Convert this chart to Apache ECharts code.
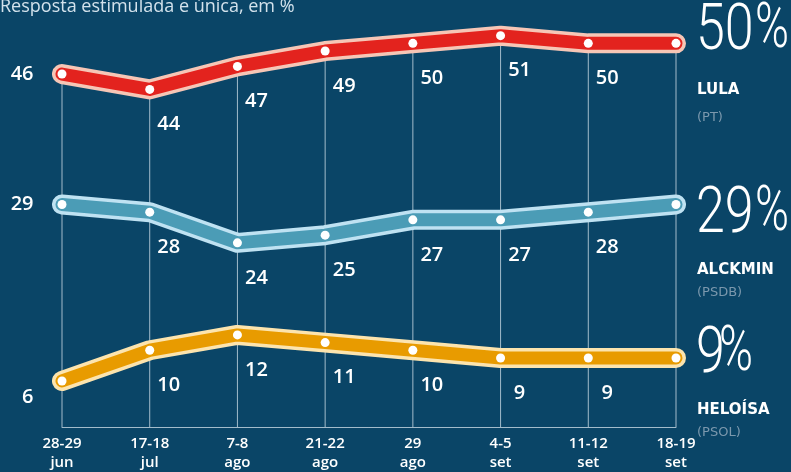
<!DOCTYPE html>
<html>
<head>
<meta charset="utf-8">
<script src="https://cdn.jsdelivr.net/npm/echarts@6/dist/echarts.min.js"></script>
<style>
  html, body { margin: 0; padding: 0; background: #0a4567; }
  #chart { width: 791px; height: 472px; }
</style>
</head>
<body>
<div id="chart"></div>
<script>
// dados
var categories = ['28-29\njun', '17-18\njul', '7-8\nago', '21-22\nago', '29\nago', '4-5\nset', '11-12\nset', '18-19\nset'];
var lula = [46, 44, 47, 49, 50, 51, 50, 50];
var alckmin = [29, 28, 24, 25, 27, 27, 28, 29];
var heloisa = [6, 10, 12, 11, 10, 9, 9, 9];

var candidatos = [
    { nome: 'LULA', partido: '(PT)', valores: lula, cor: '#e3231e', borda: '#f6c6b6' },
    { nome: 'ALCKMIN', partido: '(PSDB)', valores: alckmin, cor: '#4b9cb6', borda: '#bfe2f2' },
    { nome: 'HELOÍSA', partido: '(PSOL)', valores: heloisa, cor: '#e89b00', borda: '#fce4ae' }
];

var fonte = "'Open Sans', 'DejaVu Sans', sans-serif";

// monta os pontos com rótulos
function montaPontos(valores, primeiroOffset) {
    var pts = [];
    for (var i = 0; i < valores.length; i++) {
        var lab;
        if (i === 0) {
            lab = { show: true, position: 'left', distance: 24, offset: primeiroOffset };
        } else if (i === valores.length - 1) {
            lab = { show: false };
        } else {
            lab = { show: true, position: 'inside', offset: [19, 35] };
        }
        pts.push({ value: valores[i], label: lab });
    }
    return pts;
}

var series = [{
    // linhas verticais
    type: 'bar',
    data: lula,
    barWidth: 1,
    silent: true,
    itemStyle: { color: '#a3bccb' },
    z: 1
}];

for (var i = 0; i < candidatos.length; i++) {
    var c = candidatos[i];
    series.push({
        type: 'line',
        data: c.valores,
        symbol: 'none',
        silent: true,
        lineStyle: { color: c.borda, width: 20, cap: 'round', join: 'round' },
        z: 2
    });
    series.push({
        type: 'line',
        data: montaPontos(c.valores, i === 2 ? [0, 16] : [0, 0]),
        symbol: 'circle',
        symbolSize: 9,
        silent: true,
        itemStyle: { color: '#ffffff' },
        lineStyle: { color: c.cor, width: 13, cap: 'round', join: 'round' },
        label: {
            color: '#ffffff',
            fontSize: 20,
            fontWeight: 600,
            fontFamily: fonte
        },
        z: 3
    });
}

// textos da direita
var blocos = [
    { num: '50', y: 33, nome: 'LULA', yNome: 90, partido: '(PT)', yPart: 118, pctX: 755 },
    { num: '29', y: 216, nome: 'ALCKMIN', yNome: 270, partido: '(PSDB)', yPart: 293, pctX: 755 },
    { num: '9', y: 356, nome: 'HELOÍSA', yNome: 410, partido: '(PSOL)', yPart: 433, pctX: 719 }
];
var graficos = [{
    type: 'text',
    left: 0,
    top: -2,
    style: {
        text: 'Resposta estimulada e única, em %',
        fill: '#d3e2ec',
        font: "18px 'Open Sans', sans-serif"
    }
}];
for (var j = 0; j < blocos.length; j++) {
    var b = blocos[j];
    graficos.push({
        type: 'text', x: 696, y: b.y, scaleY: 1.25,
        style: { text: b.num, fill: '#ffffff', font: "300 52px Roboto, sans-serif", textVerticalAlign: 'middle' }
    });
    graficos.push({
        type: 'text', x: b.pctX, y: b.y - 2, scaleY: 1.35,
        style: { text: '%', fill: '#ffffff', font: "300 46px Roboto, sans-serif", textVerticalAlign: 'middle' }
    });
    graficos.push({
        type: 'text', x: 697, y: b.yNome,
        style: { text: b.nome, fill: '#ffffff', font: "bold 15px 'DejaVu Sans', sans-serif", textVerticalAlign: 'middle' }
    });
    graficos.push({
        type: 'text', x: 697, y: b.yPart,
        style: { text: b.partido, fill: '#7b98ad', font: "13px 'DejaVu Sans', sans-serif", textVerticalAlign: 'middle' }
    });
}

var chart = echarts.init(document.getElementById('chart'));
chart.setOption({
    backgroundColor: '#0a4567',
    animation: false,
    grid: { left: 62, right: 115, top: 5, bottom: 44 },
    xAxis: {
        type: 'category',
        data: categories,
        boundaryGap: false,
        axisLine: { lineStyle: { color: '#a3bccb', width: 1 } },
        axisTick: { show: false },
        axisLabel: {
            color: '#ffffff',
            fontSize: 15,
            fontWeight: 600,
            lineHeight: 19,
            fontFamily: fonte,
            margin: 7,
            interval: 0
        },
        splitLine: { show: false }
    },
    yAxis: {
        type: 'value',
        min: 0,
        max: 55,
        show: false
    },
    series: series,
    graphic: graficos
});
</script>
</body>
</html>
